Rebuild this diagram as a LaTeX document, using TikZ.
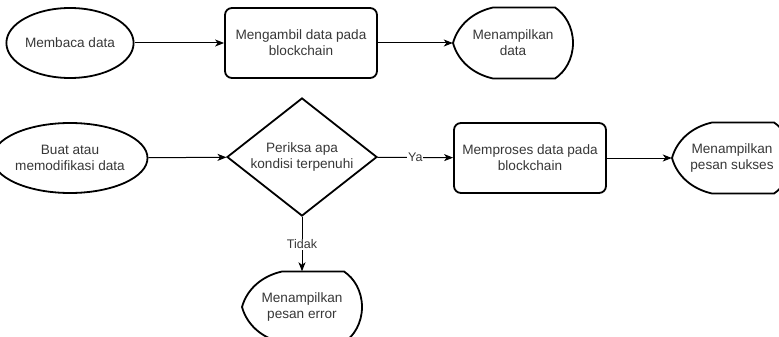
\documentclass[tikz,border=0pt]{standalone}
\usepackage{fontspec}
\setmainfont{Liberation Sans}
\usepackage{tikz}
\usetikzlibrary{shapes.geometric,arrows.meta}

\definecolor{txtgray}{RGB}{55,55,55}

\begin{document}
\begin{tikzpicture}[x=1pt,y=-1pt,
    >={Stealth[length=9pt,width=7pt,inset=2.5pt]},
    every node/.style={font=\fontsize{13.6}{16}\selectfont, text=txtgray, align=center},
    startnode/.style={ellipse, draw=black, line width=1.8pt, minimum width=126pt, minimum height=70pt, inner sep=0pt},
    procbox/.style={rectangle, rounded corners=7pt, draw=black, line width=1.8pt, minimum width=152pt, minimum height=70pt, inner sep=0pt},
    checknode/.style={diamond, draw=black, line width=1.8pt, minimum width=150pt, minimum height=118pt, inner sep=0pt, aspect=1.27},
    dispnode/.style={minimum width=120pt, minimum height=71pt, inner sep=0pt},
    lbl/.style={fill=white, font=\fontsize{12.5}{14}\selectfont, inner sep=1pt},
    conn/.style={line width=1pt, black}]

      \useasboundingbox (0,0) rectangle (779,337);

      % baris atas
      \node[startnode] (baca) at (70,43) {Membaca data};
      \node[procbox] (ambil) at (301,43) {Mengambil data pada\\blockchain};
      \node[dispnode] (tampil) at (513,43) {Menampilkan\\data};

      % baris bawah
      \node[startnode] (buat) at (70,158) {Buat atau\\memodifikasi data};
      \node[checknode] (cek) at (302,157) {Periksa apa\\kondisi terpenuhi};
      \node[procbox] (proses) at (530,158) {Memproses data pada\\blockchain};
      \node[dispnode] (sukses) at (732,158) {Menampilkan\\pesan sukses};
      \node[dispnode] (gagal) at (302,307) {Menampilkan\\pesan error};

      \foreach \n in {tampil,sukses,gagal}{
        \draw[line width=1.8pt, shift=(\n.center)] (-60,0)
          .. controls (-55,-18) and (-40,-31) .. (-20,-35.5) -- (42,-35.5)
          .. controls (52,-29) and (60,-16) .. (60,0)
          .. controls (60,16) and (52,29) .. (42,35.5) -- (-20,35.5)
          .. controls (-40,31) and (-55,18) .. cycle;
      }

      \draw[conn, ->] (baca) -- (ambil);
      \draw[conn, ->] (ambil) -- (tampil.west);
      \draw[conn, ->] (buat) -- (cek);
      \draw[conn, ->] (cek) -- node[lbl] {Ya} (proses);
      \draw[conn, ->] (proses) -- (sukses.west);
      \draw[conn, ->] (cek) -- node[lbl] {Tidak} (gagal.north);
\end{tikzpicture}
\end{document}
